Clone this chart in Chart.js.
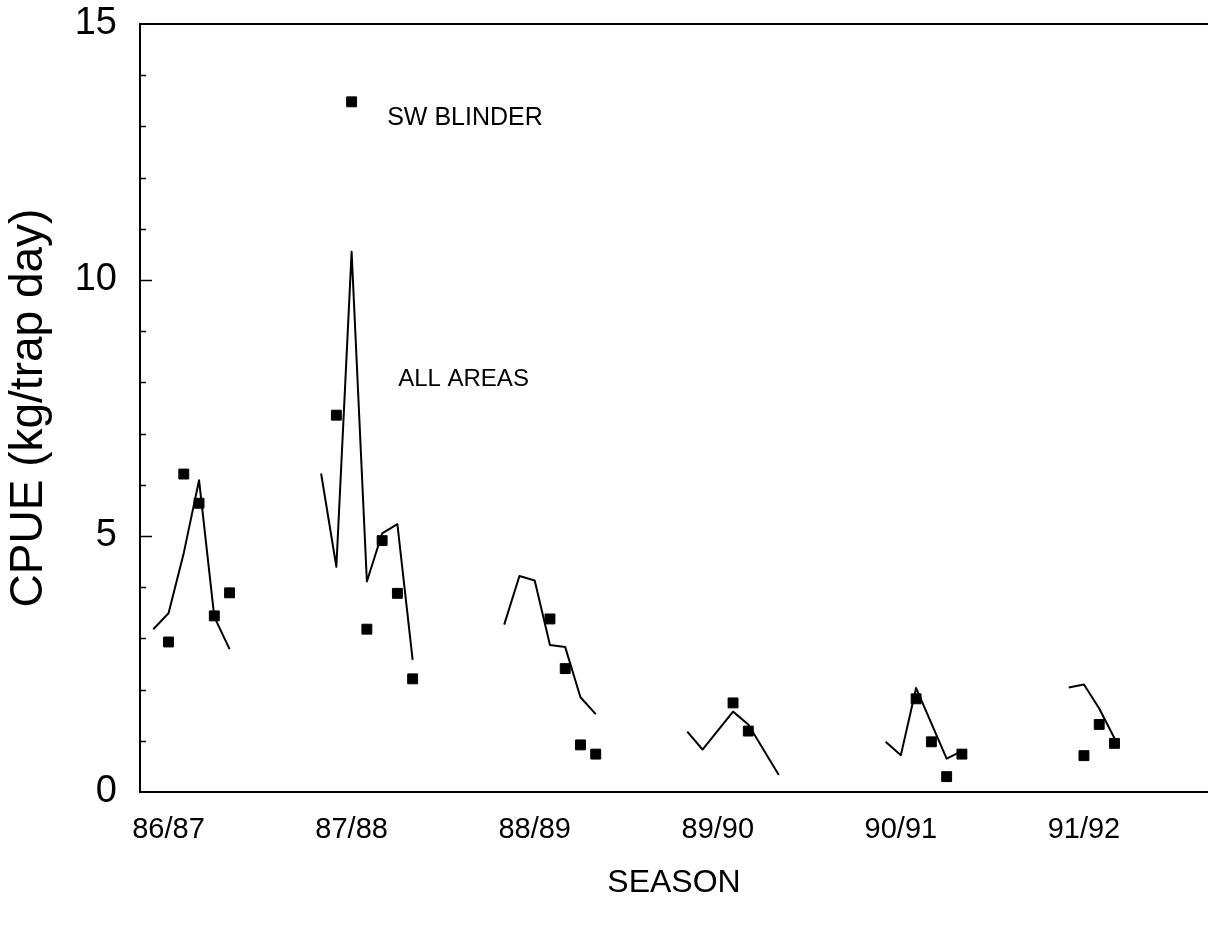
<!DOCTYPE html>
<html>
<head>
<meta charset="utf-8">
<script src="https://cdn.jsdelivr.net/npm/chart.js@4.4.0/dist/chart.umd.min.js"></script>
<style>
html,body{margin:0;padding:0;background:#fff;}
#wrap{width:1208px;height:925px;position:relative;}
</style>
</head>
<body>
<div id="wrap"><canvas id="c"></canvas></div>
<script>
// Season labels and the month index (from start of 86/87) at which each label sits
const seasons = ['86/87', '87/88', '88/89', '89/90', '90/91', '91/92'];
const seasonMonths = [0, 12, 24, 36, 48, 60];

// CPUE axis labels
const cpueTicks = [0, 5, 10, 15];

// ALL AREAS (line) — month index and CPUE (kg/trap day)
const allAreasMonths = [-1, 0, 1, 2, 3, 4,
                        10, 11, 12, 13, 14, 15, 16,
                        22, 23, 24, 25, 26, 27, 28,
                        34, 35, 37, 38, 40,
                        47, 48, 49, 51, 52,
                        59, 60, 61, 62];
const allAreasCPUE = [3.18, 3.49, 4.67, 6.09, 3.42, 2.79,
                      6.22, 4.40, 10.55, 4.11, 5.05, 5.23, 2.58,
                      3.27, 4.22, 4.13, 2.87, 2.83, 1.85, 1.52,
                      1.18, 0.83, 1.57, 1.32, 0.33,
                      0.98, 0.72, 2.03, 0.65, 0.80,
                      2.04, 2.10, 1.63, 1.05];

// SW BLINDER (squares) — month index and CPUE
const swBlinderMonths = [0, 1, 2, 3, 4,
                         11, 12, 13, 14, 15, 16,
                         25, 26, 27, 28,
                         37, 38,
                         49, 50, 51, 52,
                         60, 61, 62];
const swBlinderCPUE = [2.93, 6.21, 5.64, 3.44, 3.89,
                       7.36, 13.48, 3.18, 4.91, 3.88, 2.21,
                       3.38, 2.41, 0.92, 0.74,
                       1.74, 1.19,
                       1.82, 0.98, 0.30, 0.74,
                       0.71, 1.32, 0.95];

// build line points, breaking the line between seasons
const linePts = [];
allAreasMonths.forEach((m, i) => {
  if (i > 0 && m - allAreasMonths[i - 1] > 3) {
    linePts.push({x: (m + allAreasMonths[i - 1]) / 2, y: null});
  }
  linePts.push({x: m, y: allAreasCPUE[i]});
});
const squarePts = swBlinderMonths.map((m, i) => ({x: m, y: swBlinderCPUE[i]}));

const FONT = '"Liberation Sans", Arial, Helvetica, sans-serif';

const frame = {
  id: 'frame',
  afterDraw(chart) {
    const {ctx, chartArea: a, scales: {x, y}} = chart;
    ctx.save();
    ctx.strokeStyle = '#000';
    ctx.lineWidth = 2;
    ctx.beginPath();
    ctx.moveTo(a.left, a.top);
    ctx.lineTo(chart.width, a.top);
    ctx.stroke();
    ctx.lineWidth = 1.5;
    for (let v = 1; v < 15; v++) {
      const py = Math.round(y.getPixelForValue(v)) + 0.5;
      const len = v % 5 === 0 ? 12 : 6;
      ctx.beginPath();
      ctx.moveTo(a.left, py);
      ctx.lineTo(a.left + len, py);
      ctx.stroke();
    }
    ctx.fillStyle = '#000';
    ctx.textAlign = 'left';
    ctx.textBaseline = 'middle';
    ctx.font = '25px ' + FONT;
    ctx.fillText('SW BLINDER', x.getPixelForValue(14.33), y.getPixelForValue(13.16));
    ctx.font = '24px ' + FONT;
    ctx.fillText('ALL AREAS', x.getPixelForValue(15.05), y.getPixelForValue(8.05));
    ctx.restore();
  }
};

new Chart(document.getElementById('c'), {
  type: 'scatter',
  data: {
    datasets: [
      {
        label: 'SW BLINDER',
        data: squarePts,
        showLine: false,
        pointStyle: 'rect',
        pointRadius: 7,
        pointBackgroundColor: '#000',
        pointBorderColor: '#000',
        pointBorderWidth: 1
      },
      {
        label: 'ALL AREAS',
        data: linePts,
        showLine: true,
        spanGaps: false,
        borderColor: '#000',
        borderWidth: 2,
        borderJoinStyle: 'round',
        pointRadius: 0,
        tension: 0
      }
    ]
  },
  plugins: [frame],
  options: {
    responsive: true,
    maintainAspectRatio: false,
    animation: false,
    layout: {autoPadding: false, padding: {top: 24, right: 0, left: 0, bottom: 0}},
    plugins: {legend: {display: false}, tooltip: {enabled: false}},
    scales: {
      x: {
        type: 'linear',
        min: -1.87,
        max: 68.13,
        afterBuildTicks: (s) => { s.ticks = seasonMonths.map(v => ({value: v})); },
        afterFit: (s) => { s.height = 133; s.paddingLeft = 0; s.paddingRight = 0; },
        grid: {display: false, drawTicks: false},
        border: {display: true, color: '#000', width: 2},
        ticks: {
          autoSkip: false,
          maxRotation: 0,
          padding: 21,
          color: '#000',
          font: {family: FONT, size: 29},
          callback: (v) => { const i = seasonMonths.indexOf(v); return i >= 0 ? seasons[i] : ''; }
        },
        title: {
          display: true,
          text: 'SEASON',
          color: '#000',
          font: {family: FONT, size: 32},
          padding: {top: 0, bottom: 23}
        }
      },
      y: {
        min: 0,
        max: 15,
        afterBuildTicks: (s) => { s.ticks = cpueTicks.map(v => ({value: v})); },
        afterFit: (s) => { s.width = 140; s.paddingTop = 0; s.paddingBottom = 0; },
        grid: {display: false, drawTicks: false},
        border: {display: true, color: '#000', width: 2},
        ticks: {
          padding: 23,
          color: '#000',
          font: {family: FONT, size: 38}
        },
        title: {
          display: true,
          text: 'CPUE (kg/trap day)',
          color: '#000',
          font: {family: FONT, size: 46},
          padding: {top: 2, bottom: 0}
        }
      }
    }
  }
});
</script>
</body>
</html>
